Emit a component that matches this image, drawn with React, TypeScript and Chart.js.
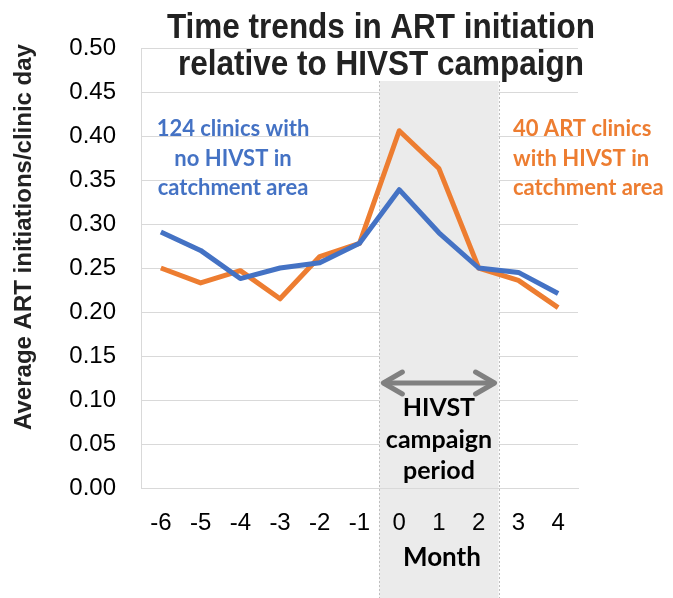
import React, { useEffect, useRef } from "react";
import { Chart, registerables } from "chart.js";

Chart.register(...registerables);

const months = ["-6", "-5", "-4", "-3", "-2", "-1", "0", "1", "2", "3", "4"];
const noHivst = [0.291, 0.270, 0.238, 0.250, 0.256, 0.278, 0.339, 0.290, 0.250, 0.245, 0.221];
const withHivst = [0.250, 0.233, 0.247, 0.215, 0.263, 0.278, 0.406, 0.363, 0.250, 0.236, 0.205];
const yTickValues = [0, 0.05, 0.1, 0.15, 0.2, 0.25, 0.3, 0.35, 0.4, 0.45, 0.5];
const campaignMonths = ["0", "1", "2"];

const titleLines = ["Time trends in ART initiation", "relative to HIVST campaign"];
const yTitle = "Average ART initiations/clinic day";
const blueNote = ["124 clinics with", "no HIVST in", "catchment area"];
const orangeNote = ["40 ART clinics", "with HIVST in", "catchment area"];
const campaignNote = ["HIVST", "campaign", "period"];
const xTitle = "Month";

const BLUE = "#4472C4";
const ORANGE = "#ED7D31";

const overlay = {
  id: "overlay",
  beforeDraw(chart: any) {
    const { ctx, chartArea, scales } = chart;
    const x = scales.x;
    const y = scales.y;
    ctx.save();
    ctx.fillStyle = "#ffffff";
    ctx.fillRect(0, 0, chart.width, chart.height);
    // gridlines
    ctx.strokeStyle = "#D9D9D9";
    ctx.lineWidth = 1;
    for (const v of yTickValues) {
      if (v === 0) continue;
      const py = Math.round(y.getPixelForValue(v)) + 0.5;
      ctx.beginPath();
      ctx.moveTo(chartArea.left, py);
      ctx.lineTo(chartArea.right, py);
      ctx.stroke();
    }
    // shading
    const i0 = months.indexOf(campaignMonths[0]);
    const i2 = months.indexOf(campaignMonths[campaignMonths.length - 1]);
    const xl = (x.getPixelForValue(i0 - 1) + x.getPixelForValue(i0)) / 2;
    const xr = (x.getPixelForValue(i2) + x.getPixelForValue(i2 + 1)) / 2;
    const top = 81;
    ctx.fillStyle = "#EBEBEB";
    ctx.fillRect(xl, top, xr - xl, chart.height - top);
    ctx.strokeStyle = "#BFBFBF";
    ctx.setLineDash([2, 2]);
    for (const px of [xl, xr]) {
      ctx.beginPath();
      ctx.moveTo(Math.round(px) + 0.5, top);
      ctx.lineTo(Math.round(px) + 0.5, chart.height);
      ctx.stroke();
    }
    ctx.setLineDash([]);
    ctx.restore();
  },
  afterDraw(chart: any) {
    const { ctx, scales } = chart;
    const x = scales.x;
    ctx.save();
    // Title
    ctx.fillStyle = "#222222";
    ctx.textAlign = "center";
    ctx.textBaseline = "alphabetic";
    ctx.font = "bold 31.5px 'Liberation Sans', Arial, sans-serif";
    ctx.save();
    ctx.translate(381, 38);
    ctx.scale(1, 1.1);
    ctx.fillText(titleLines[0], 0, 0);
    ctx.restore();
    ctx.save();
    ctx.translate(381, 75);
    ctx.scale(1, 1.1);
    ctx.fillText(titleLines[1], 0, 0);
    ctx.restore();

    ctx.textBaseline = "middle";
    // Y title
    ctx.save();
    ctx.translate(24, 237);
    ctx.rotate(-Math.PI / 2);
    ctx.font = "bold 24px 'Liberation Sans', Arial, sans-serif";
    ctx.fillStyle = "#222222";
    ctx.fillText(yTitle, 0, 0);
    ctx.restore();

    // Notes
    ctx.font = "bold 22px Lato, 'Open Sans', sans-serif";
    ctx.fillStyle = BLUE;
    ctx.textAlign = "center";
    blueNote.forEach((t, i) => ctx.fillText(t, 233, 129 + i * 29.5));
    ctx.fillStyle = ORANGE;
    ctx.textAlign = "left";
    orangeNote.forEach((t, i) => ctx.fillText(t, 513, 129 + i * 29.5));

    // Arrow
    const i0 = months.indexOf(campaignMonths[0]);
    const i2 = months.indexOf(campaignMonths[campaignMonths.length - 1]);
    const xl = (x.getPixelForValue(i0 - 1) + x.getPixelForValue(i0)) / 2 + 2;
    const xr = (x.getPixelForValue(i2) + x.getPixelForValue(i2 + 1)) / 2 - 2;
    const ay = 383;
    ctx.strokeStyle = "#808080";
    ctx.lineWidth = 5;
    ctx.lineCap = "round";
    ctx.lineJoin = "round";
    ctx.beginPath();
    ctx.moveTo(xl + 3, ay);
    ctx.lineTo(xr - 3, ay);
    ctx.stroke();
    ctx.beginPath();
    ctx.moveTo(xl + 21, ay - 11);
    ctx.lineTo(xl + 2, ay);
    ctx.lineTo(xl + 21, ay + 11);
    ctx.stroke();
    ctx.beginPath();
    ctx.moveTo(xr - 21, ay - 11);
    ctx.lineTo(xr - 2, ay);
    ctx.lineTo(xr - 21, ay + 11);
    ctx.stroke();

    // Campaign note
    const cx = (xl + xr) / 2;
    ctx.fillStyle = "#000000";
    ctx.textAlign = "center";
    ctx.font = "bold 25px Lato, 'Open Sans', sans-serif";
    campaignNote.forEach((t, i) => ctx.fillText(t, cx, 408 + i * 31.5));

    // X title
    ctx.font = "bold 26px Lato, 'Open Sans', sans-serif";
    ctx.fillText(xTitle, cx + 3, 558);
    ctx.restore();
  },
};

export default function App() {
  const ref = useRef<HTMLCanvasElement | null>(null);
  useEffect(() => {
    document.body.style.margin = "0";
    const canvas = ref.current;
    if (!canvas) return;
    const chart = new Chart(canvas, {
      type: "line",
      data: {
        labels: months,
        datasets: [
          {
            label: "124 clinics with no HIVST in catchment area",
            data: noHivst,
            borderColor: BLUE,
            backgroundColor: BLUE,
            borderWidth: 5,
            pointRadius: 0,
            tension: 0,
            borderJoinStyle: "round",
          },
          {
            label: "40 ART clinics with HIVST in catchment area",
            data: withHivst,
            borderColor: ORANGE,
            backgroundColor: ORANGE,
            borderWidth: 5,
            pointRadius: 0,
            tension: 0,
            borderJoinStyle: "round",
          },
        ],
      },
      options: {
        animation: false,
        responsive: false,
        layout: { padding: { left: 0, right: 95, top: 48, bottom: 0 } },
        plugins: {
          legend: { display: false },
          tooltip: { enabled: false },
          title: { display: false },
        },
        scales: {
          x: {
            type: "category",
            offset: true,
            grid: { display: false, drawTicks: false },
            border: { display: true, color: "#D9D9D9", width: 1 },
            ticks: {
              color: "#000000",
              font: { family: "'Liberation Sans', Arial, sans-serif", size: 24 },
              padding: 21,
              maxRotation: 0,
              autoSkip: false,
            },
            afterFit: (s: any) => {
              s.height = 110;
            },
          },
          y: {
            min: 0,
            max: 0.5,
            grid: { display: false, drawTicks: false },
            border: { display: true, color: "#D9D9D9", width: 1 },
            ticks: {
              stepSize: 0.05,
              color: "#000000",
              font: { family: "'Liberation Sans', Arial, sans-serif", size: 24 },
              padding: 25,
              callback: (v: any) => Number(v).toFixed(2),
            },
            afterFit: (s: any) => {
              s.width = 141;
            },
          },
        },
      },
      plugins: [overlay],
    });
    return () => chart.destroy();
  }, []);
  return (
    <div style={{ width: 673, height: 598, position: "relative" }}>
      <canvas ref={ref} width={673} height={598} style={{ display: "block" }} />
    </div>
  );
}
